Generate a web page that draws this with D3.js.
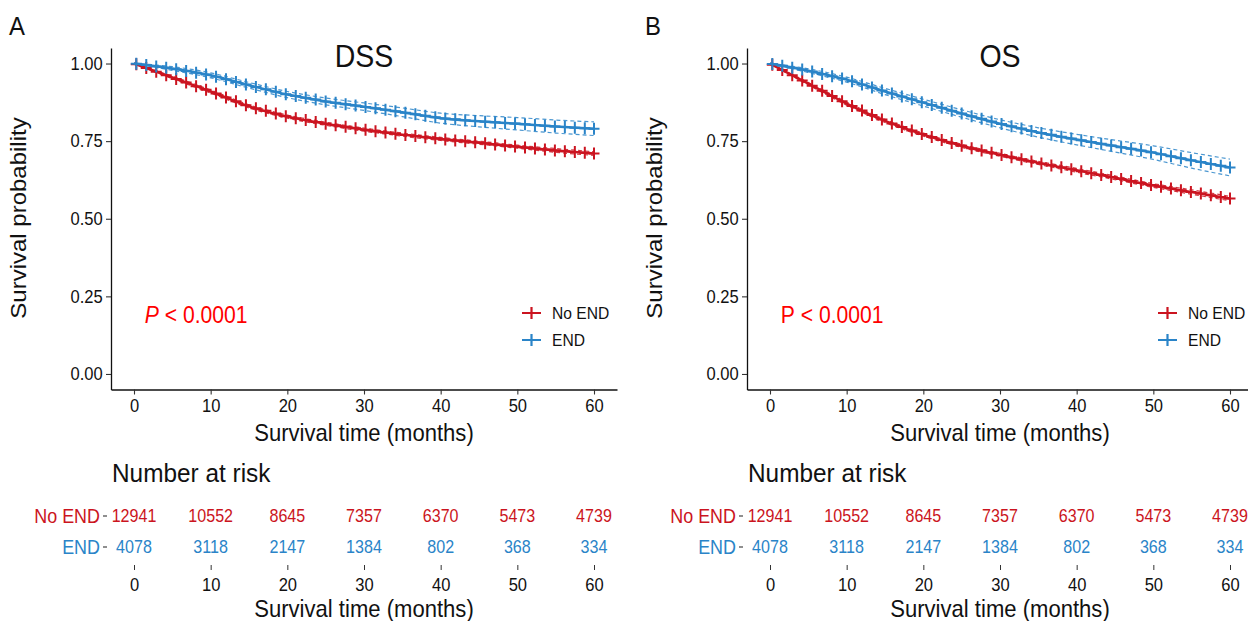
<!DOCTYPE html>
<html><head><meta charset="utf-8">
<script src="https://cdn.jsdelivr.net/npm/d3@7"></script>
<style>body{margin:0;background:#fff}svg{display:block;font-family:"Liberation Sans",Arial,sans-serif}</style>
</head><body><svg id="c" width="1248" height="621"></svg>
<script>
const months = [0,5,10,15,20,25,30,35,40,45,50,55,60];
const groups = ["No END","END"];
const colors = ["#CB1420","#2A84C8"];
const xTicks = [0,10,20,30,40,50,60];
const yTicks = [0,0.25,0.5,0.75,1];
const riskNoEND = [12941,10552,8645,7357,6370,5473,4739];
const riskEND = [4078,3118,2147,1384,802,368,334];

const dssNoEND = [1.000,0.955,0.910,0.862,0.829,0.806,0.787,0.771,0.757,0.745,0.732,0.720,0.710];
const dssNoENDlo = [1.000,0.951,0.905,0.857,0.824,0.801,0.782,0.766,0.752,0.740,0.727,0.714,0.704];
const dssNoENDhi = [1.000,0.959,0.915,0.867,0.834,0.811,0.792,0.776,0.762,0.750,0.737,0.726,0.716];
const dssEND = [1.000,0.984,0.962,0.930,0.900,0.878,0.861,0.843,0.824,0.814,0.806,0.797,0.790];
const dssENDlo = [1.000,0.978,0.954,0.921,0.890,0.867,0.849,0.829,0.808,0.796,0.786,0.776,0.768];
const dssENDhi = [1.000,0.990,0.970,0.939,0.910,0.889,0.873,0.857,0.840,0.832,0.826,0.818,0.812];

const osNoEND = [1.000,0.935,0.871,0.815,0.771,0.735,0.706,0.680,0.656,0.632,0.607,0.586,0.565];
const osNoENDlo = [1.000,0.931,0.866,0.810,0.766,0.730,0.701,0.675,0.650,0.626,0.601,0.579,0.558];
const osNoENDhi = [1.000,0.939,0.876,0.820,0.776,0.740,0.711,0.685,0.662,0.638,0.613,0.593,0.572];
const osEND = [1.000,0.977,0.948,0.910,0.874,0.839,0.806,0.778,0.755,0.734,0.713,0.688,0.665];
const osENDlo = [1.000,0.971,0.940,0.900,0.863,0.827,0.793,0.763,0.738,0.715,0.691,0.663,0.638];
const osENDhi = [1.000,0.983,0.956,0.920,0.885,0.851,0.819,0.793,0.772,0.753,0.735,0.713,0.692];

const censorTimes = [0.3,1.6,2.9,4.2,5.5,6.8,8.1,9.4,10.7,12.0,13.3,14.6,15.9,17.2,18.5,19.8,21.1,22.4,23.7,25.0,26.3,27.6,28.9,30.2,31.5,32.8,34.1,35.4,36.7,38.0,39.3,40.6,41.9,43.2,44.5,45.8,47.1,48.4,49.7,51.0,52.3,53.6,54.9,56.2,57.5,58.8,60.0];

const SQ = 0.92;
const svg = d3.select("#c");

function T(parent, x, y, s, size, opt={}){
  const t = parent.append("text")
    .attr("transform", opt.rot ? `translate(${x},${y}) rotate(-90) scale(1,${SQ})` : `translate(${x},${y}) scale(${SQ},1)`)
    .attr("font-size", size).attr("fill", opt.fill || "#111")
    .attr("text-anchor", opt.anchor || "start");
  if (opt.central) t.attr("dominant-baseline","central");
  if (s !== null) t.text(s);
  return t;
}

function styleAxis(a, size){
  a.selectAll("text").attr("font-size", size).attr("fill","#111")
    .attr("font-family","Liberation Sans, Arial, sans-serif")
    .attr("transform", `scale(${SQ},1)`);
}

function panel(ox, letter, title, series, italicP){
  const g = svg.append("g");
  const x = d3.scaleLinear().domain([-3,63]).range([ox, ox+506]);
  const y = d3.scaleLinear().domain([-0.05,1.05]).range([389.5, 48]);
  T(g, ox-102, 35, letter, 26);
  T(g, x(30), 67, title, 31, {anchor:"middle"});
  // axes
  const ya = g.append("g").attr("transform",`translate(${ox},0)`)
    .call(d3.axisLeft(y).tickValues(yTicks).tickFormat(d3.format(".2f")).tickSize(5).tickPadding(4).tickSizeOuter(0));
  const xa = g.append("g").attr("transform",`translate(0,389.5)`)
    .call(d3.axisBottom(x).tickValues(xTicks).tickSize(5).tickPadding(5).tickSizeOuter(0));
  [ya,xa].forEach(a=>{a.select(".domain").attr("stroke","#111").attr("stroke-width",1.3);
    a.selectAll(".tick line").attr("stroke","#333").attr("stroke-width",1.1);
    styleAxis(a, 18);});
  T(g, ox-93, 218, "Survival probability", 24, {rot:true, anchor:"middle", central:true});
  T(g, x(30), 441, "Survival time (months)", 24, {anchor:"middle"});

  const line = d3.line().x(d=>x(d[0])).y(d=>y(d[1])).curve(d3.curveMonotoneX);
  series.forEach((s,i)=>{
    const col = colors[i];
    [s.lo, s.hi].forEach(b=>{
      g.append("path").attr("d", line(months.map((m,k)=>[m,b[k]]))).attr("fill","none")
        .attr("stroke",col).attr("stroke-width",1.2).attr("stroke-dasharray","4,3").attr("opacity",0.85);
    });
    g.append("path").attr("d", line(months.map((m,k)=>[m,s.v[k]]))).attr("fill","none")
      .attr("stroke",col).attr("stroke-width",2.5);
    const interp = t => { const k = Math.min(months.length-2, Math.floor(t/5)); const f=(t-months[k])/5; return s.v[k]+(s.v[k+1]-s.v[k])*f; };
    g.append("g").selectAll("path").data(censorTimes).join("path")
      .attr("d", t=>{const cx=x(t), cy=y(interp(t)); return `M${cx-5.5},${cy}H${cx+5.5}M${cx},${cy-6}V${cy+6}`;})
      .attr("stroke",col).attr("stroke-width",2).attr("fill","none");
  });
  // p value
  const pt = T(g, x(1.4), y(0.19), null, 23, {fill:"#FF0000", central:true});
  pt.append("tspan").attr("font-style", italicP ? "italic":"normal").text("P");
  pt.append("tspan").text(" < 0.0001");
  // legend
  groups.forEach((gr,i)=>{
    const ly = 313 + i*27, lx = ox+411;
    g.append("path").attr("d",`M${lx},${ly}H${lx+19}M${lx+9.5},${ly-6}V${ly+6}`).attr("stroke",colors[i]).attr("stroke-width",2.2);
    T(g, lx+30, ly, gr, 17, {central:true});
  });
  // risk table
  T(g, ox+1, 482, "Number at risk", 26.5);
  const rows = [riskNoEND, riskEND];
  const ry = [516, 547];
  rows.forEach((r,i)=>{
    T(g, ox-11, ry[i], groups[i], 19.5, {anchor:"end", central:true, fill:colors[i]});
    g.append("line").attr("x1",ox-8).attr("x2",ox-4).attr("y1",ry[i]).attr("y2",ry[i]).attr("stroke","#333").attr("stroke-width",1.1);
    const rg = g.append("g");
    r.forEach((d,k)=>T(rg, x(xTicks[k]), ry[i], String(d), 17.5, {anchor:"middle", central:true, fill:colors[i]}));
  });
  const ra = g.append("g").attr("transform","translate(0,565)")
    .call(d3.axisBottom(x).tickValues(xTicks).tickSize(5).tickPadding(8).tickSizeOuter(0));
  ra.select(".domain").remove();
  ra.selectAll(".tick line").attr("stroke","#333");
  styleAxis(ra, 18);
  T(g, x(30), 617, "Survival time (months)", 24, {anchor:"middle"});
}

panel(111, "A", "DSS", [{v:dssNoEND, lo:dssNoENDlo, hi:dssNoENDhi},{v:dssEND, lo:dssENDlo, hi:dssENDhi}], true);
panel(747, "B", "OS", [{v:osNoEND, lo:osNoENDlo, hi:osNoENDhi},{v:osEND, lo:osENDlo, hi:osENDhi}], false);
</script></body></html>
